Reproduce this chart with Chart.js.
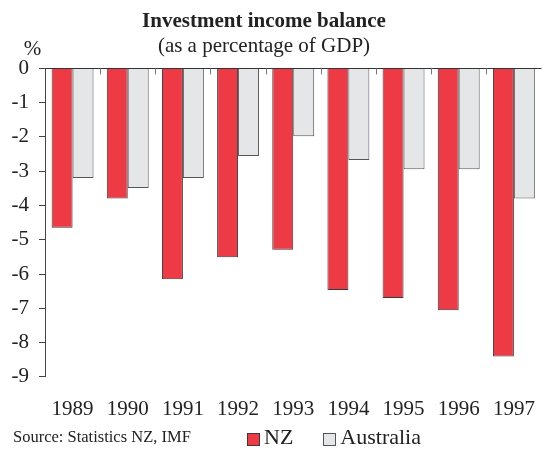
<!DOCTYPE html>
<html>
  <head>
    <title>Investment income balance</title>
    <script src="https://cdn.jsdelivr.net/npm/chart.js"></script>
    <style>
      body { margin: 0; background: #fff; overflow: hidden; }
      #wrap { position: relative; width: 547px; height: 450px; overflow: hidden; font-family: "Liberation Serif", serif; color: #222; }
      /* canvas pushed a little to the left so the centred title sits where it should */
      #box { position: absolute; left: -17px; top: 0; width: 564px; height: 434px; }
      #foot { position: absolute; left: 0; top: 424px; width: 547px; height: 26px; }
      #source { position: absolute; left: 13px; top: 3px; font-size: 16.5px; }
      #legend { position: absolute; left: 247px; top: 0; display: flex; font-size: 22px; }
      .item { display: flex; align-items: center; margin-right: 30px; }
      .sw { width: 11px; height: 11px; border: 1px solid #444; margin-right: 4px; margin-top: 4px; }
    </style>
  </head>
  <body>
    <div id="wrap">
      <div id="box"><canvas id="chart"></canvas></div>
      <div id="foot">
        <div id="source">Source: Statistics NZ, IMF</div>
        <div id="legend"></div>
      </div>
    </div>

    <script>
  const years = ['1989', '1990', '1991', '1992', '1993', '1994', '1995', '1996', '1997'];
  const nz = [-4.65, -3.8, -6.15, -5.51, -5.29, -6.47, -6.7, -7.06, -8.41];
  const australia = [-3.2, -3.49, -3.2, -2.56, -1.98, -2.67, -2.94, -2.94, -3.8];
  const yTicks = [0, -1, -2, -3, -4, -5, -6, -7, -8, -9];

  const serif = '"Liberation Serif", "Times New Roman", serif';

  // little ticks hanging off the zero line between years, plus the "%" unit label
  const extras = {
    id: 'extras',
    afterDraw(chart) {
      const { ctx, scales: { x, y } } = chart;
      const y0 = y.getPixelForValue(0);
      const step = x.width / years.length;
      ctx.save();
      ctx.strokeStyle = '#777';
      ctx.lineWidth = 1;
      for (let i = 1; i < years.length; i++) {
        const px = Math.round(x.left + step * i) + 0.5;
        ctx.beginPath();
        ctx.moveTo(px, y0);
        ctx.lineTo(px, y0 + 6);
        ctx.stroke();
      }
      ctx.fillStyle = '#222';
      ctx.font = '21px ' + serif;
      ctx.textAlign = 'center';
      ctx.textBaseline = 'alphabetic';
      ctx.fillText('%', y.right - 12.5, y0 - 13);
      ctx.restore();
    }
  };

  const chart = new Chart(document.getElementById('chart'), {
    type: 'bar',
    data: {
      labels: years,
      datasets: [
        {
          label: 'NZ',
          data: nz,
          backgroundColor: '#ee3a44',
          borderColor: '#3a3a3a',
          borderWidth: 1
        },
        {
          label: 'Australia',
          data: australia,
          backgroundColor: '#e5e6e8',
          borderColor: '#555',
          borderWidth: 1
        }
      ]
    },
    options: {
      responsive: true,
      maintainAspectRatio: false,
      animation: false,
      layout: { padding: { left: 0, right: 2, top: 3, bottom: 0 } },
      datasets: { bar: { categoryPercentage: 0.76, barPercentage: 1 } },
      plugins: {
        legend: { display: false },
        tooltip: { enabled: false },
        title: {
          display: true,
          text: 'Investment income balance',
          color: '#222',
          font: { family: serif, size: 21, weight: 'bold' },
          padding: { top: 6, bottom: 0 }
        },
        subtitle: {
          display: true,
          text: '(as a percentage of GDP)',
          color: '#222',
          font: { family: serif, size: 21 },
          padding: { top: 0, bottom: 9 }
        }
      },
      scales: {
        x: {
          grid: { display: false },
          border: { display: false },
          ticks: { color: '#222', font: { family: serif, size: 21 }, padding: 12, maxRotation: 0 }
        },
        y: {
          min: -9,
          max: 0,
          afterBuildTicks(axis) { axis.ticks = yTicks.map(v => ({ value: v })); },
          afterFit(axis) { axis.width = 62; },
          grid: {
            color: c => (c.tick && c.tick.value === 0 ? '#333' : 'rgba(0,0,0,0)'),
            tickColor: '#444',
            tickLength: 6
          },
          border: { display: true, color: '#444' },
          ticks: { color: '#222', font: { family: serif, size: 21 }, padding: 10 }
        }
      }
    },
    plugins: [extras]
  });

  // legend built from the datasets
  const legend = document.getElementById('legend');
  chart.data.datasets.forEach(ds => {
    const item = document.createElement('div');
    item.className = 'item';
    const sw = document.createElement('span');
    sw.className = 'sw';
    sw.style.background = ds.backgroundColor;
    sw.style.borderColor = ds.borderColor;
    const txt = document.createElement('span');
    txt.textContent = ds.label;
    item.appendChild(sw);
    item.appendChild(txt);
    legend.appendChild(item);
  });
</script>
  </body>
</html>
